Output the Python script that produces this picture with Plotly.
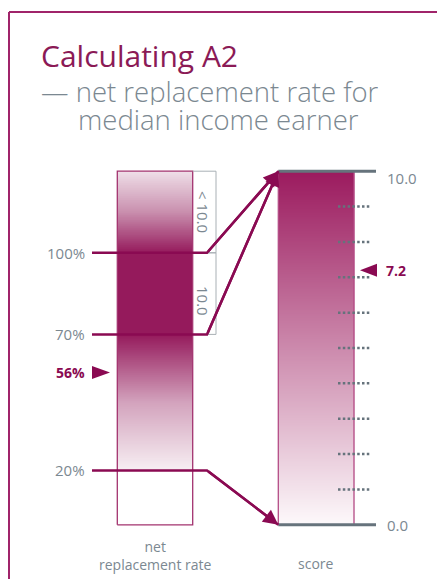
import numpy as np
import plotly.graph_objects as go

# ---- data -------------------------------------------------------------
rate_thresholds = [100, 70, 20]            # net replacement rate (%)
rate_labels = ["100%", "70%", "20%"]
threshold_scores = [10.0, 10.0, 0.0]       # score each threshold maps to
rate_max = 130                             # top of the replacement-rate bar (%)
median_rate = 56                           # observed rate for median earner (%)
score_max = 10.0
score_dots = [1, 2, 3, 4, 5, 6, 7, 8, 9]
score_end_labels = ["10.0", "0.0"]
score_end_values = [10.0, 0.0]
final_score = 7.2
band_labels = ["< 10.0", "10.0"]
band_ranges = [(100, 130), (70, 100)]

# ---- page geometry (x in px, y in % of replacement rate) --------------
W, H = 437, 579
ZERO_PX = 524.8          # pixel row of 0 %
PX_PER_PCT = 2.72
y_lo = (ZERO_PX - H) / PX_PER_PCT
y_hi = ZERO_PX / PX_PER_PCT


def s2p(s):
    """score -> position on the shared vertical scale"""
    return s * rate_max / score_max


def px2y(py):
    return (ZERO_PX - py) / PX_PER_PCT


MAGENTA = "#951a5c"
LINE = "#8a0a52"
GREY_TXT = "#7b8891"
GREY_LINE = "#66737c"
FONT = "Open Sans"

L0, L1 = 117.3, 192.7     # rate bar
R0, R1 = 278.3, 354.0     # score bar
BOX_R = 216.0

fig = go.Figure()

# rate bar gradient
edges = np.arange(0, rate_max + 0.25, 0.25)
centers = (edges[:-1] + edges[1:]) / 2
fig.add_trace(go.Heatmap(
    x=[L0, L1], y=edges, z=centers[:, None], zmin=0, zmax=rate_max,
    colorscale=[[0, "#ffffff"], [19.9 / 130, "#ffffff"], [20 / 130, "#f7eff3"],
                [45 / 130, "#d3a3bd"], [70 / 130, MAGENTA], [100 / 130, MAGENTA],
                [115 / 130, "#c98fae"], [1, "#efdfe8"]],
    showscale=False, hoverinfo="skip"))

# score bar gradient
s_edges = np.arange(0, score_max + 0.02, 0.02)
s_centers = (s_edges[:-1] + s_edges[1:]) / 2
fig.add_trace(go.Heatmap(
    x=[R0, R1], y=s2p(s_edges), z=s_centers[:, None], zmin=0, zmax=score_max,
    colorscale=[[0, "#fdf9fb"], [1, "#9b1a5e"]],
    showscale=False, hoverinfo="skip"))

# bar outlines
fig.add_trace(go.Scatter(x=[L0, L1, L1, L0, L0], y=[0, 0, rate_max, rate_max, 0],
                         mode="lines", line=dict(color="#a3336f", width=1.3),
                         hoverinfo="skip"))
fig.add_trace(go.Scatter(x=[R0, R1, R1, R0, R0],
                         y=[0, 0, s2p(score_max), s2p(score_max), 0],
                         mode="lines", line=dict(color="#b44c86", width=1.3),
                         hoverinfo="skip"))

# score bands next to the rate bar
for lo, hi in band_ranges:
    fig.add_trace(go.Scatter(x=[L1, BOX_R, BOX_R, L1], y=[hi, hi, lo, lo],
                             mode="lines", line=dict(color="#a9b0b5", width=1),
                             hoverinfo="skip"))

# dotted score ticks
dx, dy = [], []
for s in score_dots:
    dx += [338, 371, None]
    dy += [s2p(s), s2p(s), None]
fig.add_trace(go.Scatter(x=dx, y=dy, mode="lines",
                         line=dict(color=GREY_LINE, width=2.5, dash="2.5px,2.3px"),
                         hoverinfo="skip"))

# score scale end lines
for s in score_end_values:
    fig.add_trace(go.Scatter(x=[R0, 376], y=[s2p(s), s2p(s)], mode="lines",
                             line=dict(color=GREY_LINE, width=3), hoverinfo="skip"))

# connectors from rate thresholds to scores
annotations = []
for t, sc in zip(rate_thresholds, threshold_scores):
    fig.add_trace(go.Scatter(x=[92, 207, R0], y=[t, t, s2p(sc)], mode="lines",
                             line=dict(color=LINE, width=2.5), hoverinfo="skip"))
    annotations.append(dict(x=R0, y=s2p(sc), ax=207, ay=t, xref="x", yref="y",
                            axref="x", ayref="y", text="", showarrow=True,
                            arrowhead=2, arrowsize=1.2, arrowwidth=2.5,
                            arrowcolor=LINE, standoff=0))

# marker for the observed rate
tri_h = 6.5 / PX_PER_PCT
fig.add_trace(go.Scatter(x=[92, 92, 110, 92],
                         y=[median_rate + tri_h, median_rate - tri_h, median_rate, median_rate + tri_h],
                         mode="lines", fill="toself", fillcolor=LINE,
                         line=dict(color=LINE, width=0), hoverinfo="skip"))
# marker for the resulting score
fs = s2p(final_score)
fig.add_trace(go.Scatter(x=[377, 377, 360, 377], y=[fs + tri_h, fs - tri_h, fs, fs + tri_h],
                         mode="lines", fill="toself", fillcolor=LINE,
                         line=dict(color=LINE, width=0), hoverinfo="skip"))

# ---- text --------------------------------------------------------------
def txt(x, y, s, size=15, color=GREY_TXT, xa="center", weight="normal", **kw):
    d = dict(x=x, y=y, xref="x", yref="y", text=s, showarrow=False, xanchor=xa,
             yanchor="middle", font=dict(family=FONT, size=size, color=color, weight=weight))
    d.update(kw)
    annotations.append(d)


for t, lab in zip(rate_thresholds, rate_labels):
    txt(87, t, lab, xa="right")
txt(87, median_rate, f"{median_rate}%", color=LINE, xa="right", weight="bold", size=14)
txt(384, fs, f"{final_score}", color=LINE, xa="left", weight="bold", size=14)
for v, lab in zip(score_end_values, score_end_labels):
    txt(385, s2p(v) - 7 / PX_PER_PCT if v > 0 else s2p(v), lab, xa="left")

# rotated band labels
txt(203, px2y(212), band_labels[0], textangle=90)
txt(203, px2y(301), band_labels[1], textangle=90)

# bar captions
txt((L0 + L1) / 2, px2y(555), "net<br>replacement rate", size=14)
txt((R0 + R1) / 2, px2y(563), "score", size=14)

# title and two-line subtitle (tight leading, so each line gets a short box)
annotations.append(dict(x=39, y=px2y(55), xref="x", yref="y", text="Calculating A2",
                        showarrow=False, xanchor="left", yanchor="middle",
                        font=dict(family=FONT, size=30, color="#8b1a56")))
annotations.append(dict(x=39, y=px2y(91), xref="x", yref="y",
                        text="— net replacement rate for", showarrow=False,
                        xanchor="left", yanchor="middle", height=27, valign="middle",
                        font=dict(family=FONT, size=27.5, color=GREY_TXT, weight=300)))
annotations.append(dict(x=76, y=px2y(119), xref="x", yref="y",
                        text="median income earner", showarrow=False,
                        xanchor="left", yanchor="middle", height=27, valign="middle",
                        font=dict(family=FONT, size=27.5, color=GREY_TXT, weight=300)))

# frame
shapes = [
    dict(type="line", xref="x", yref="y", x0=9, x1=9, y0=px2y(12), y1=px2y(H + 5),
         line=dict(color="#a0246a", width=2)),
    dict(type="line", xref="x", yref="y", x0=9, x1=W + 5, y0=px2y(12), y1=px2y(12),
         line=dict(color="#a0246a", width=2)),
]

fig.update_layout(
    width=W, height=H, margin=dict(l=0, r=0, t=0, b=0),
    paper_bgcolor="white", plot_bgcolor="white", showlegend=False,
    xaxis=dict(range=[0, W], visible=False, fixedrange=True),
    yaxis=dict(range=[y_lo, y_hi], visible=False, fixedrange=True),
    annotations=annotations, shapes=shapes,
)

fig.write_html("out.html", config={"displayModeBar": False})
